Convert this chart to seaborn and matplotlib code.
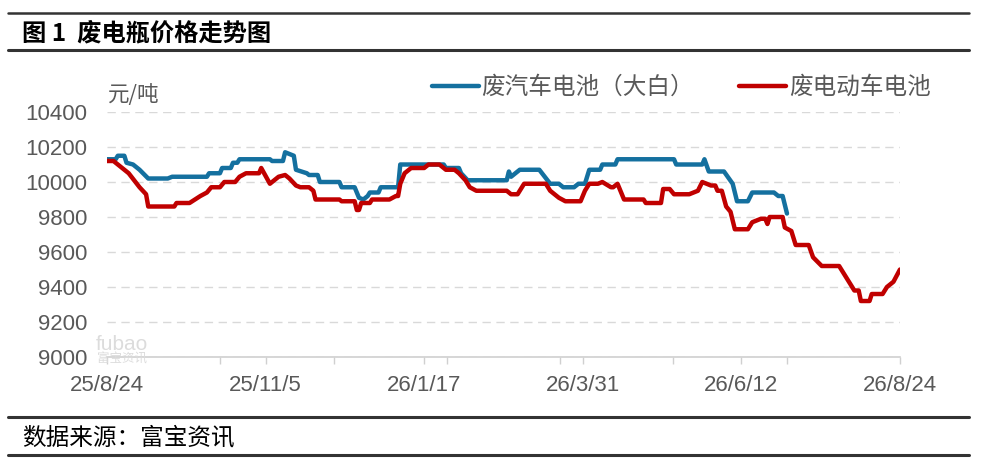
import pandas as pd
import matplotlib.pyplot as plt
from matplotlib.lines import Line2D
import seaborn as sns

# data: days since 2025-08-24 and price (元/吨)
start = pd.Timestamp("2025-08-24")

car_days = [0, 4, 5, 8, 9, 12, 15, 19, 28, 30, 46, 47, 52, 53, 57, 58, 60, 61, 75, 76,
            81, 82, 84, 86, 87, 92, 93, 97, 98, 107, 108, 114, 116, 118, 120, 121, 125, 126,
            134, 135, 155, 156, 162, 163, 166, 184, 185, 186, 190, 199, 204, 208, 210, 215,
            217, 220, 222, 227, 228, 234, 235, 261, 262, 274, 275, 277, 284, 288, 290, 295,
            297, 307, 309, 311, 313]
car_price = [10130, 10130, 10150, 10150, 10110, 10100, 10070, 10020, 10020, 10030, 10030,
             10050, 10050, 10080, 10080, 10110, 10110, 10130, 10130, 10120, 10120, 10170,
             10160, 10150, 10070, 10050, 10040, 10040, 10000, 10000, 9970, 9970, 9910, 9900,
             9920, 9940, 9940, 9970, 9970, 10100, 10100, 10080, 10080, 10050, 10010, 10010,
             10060, 10030, 10070, 10070, 9990, 9990, 9970, 9970, 9990, 9990, 10070, 10070,
             10100, 10100, 10130, 10130, 10100, 10100, 10130, 10060, 10060, 9990, 9890, 9890,
             9940, 9940, 9920, 9920, 9820]

ev_days = [0, 3, 6, 10, 15, 18, 19, 31, 32, 38, 43, 46, 48, 52, 54, 59, 61, 64, 70, 71,
           75, 79, 82, 84, 87, 89, 93, 95, 96, 107, 108, 114, 115, 116, 117, 121, 122, 130,
           133, 134, 135, 137, 140, 146, 148, 153, 156, 160, 162, 165, 167, 170, 184, 186,
           189, 192, 202, 204, 208, 211, 218, 220, 222, 226, 228, 232, 233, 235, 238, 247,
           248, 255, 256, 259, 261, 268, 272, 274, 278, 280, 281, 283, 285, 287, 289, 295,
           297, 301, 303, 304, 305, 311, 312, 315, 317, 323, 325, 329, 337, 340, 344, 346,
           347, 351, 352, 357, 359, 362, 365]
ev_price = [10120, 10120, 10090, 10050, 9970, 9930, 9860, 9860, 9880, 9880, 9920, 9940,
            9970, 9970, 10000, 10000, 10030, 10050, 10050, 10080, 9990, 10030, 10040, 10020,
            9980, 9970, 9970, 9950, 9900, 9900, 9890, 9890, 9840, 9840, 9880, 9880, 9900,
            9900, 9920, 9920, 9990, 10050, 10080, 10080, 10100, 10100, 10070, 10070, 10050,
            10010, 9970, 9950, 9950, 9930, 9930, 9990, 9990, 9950, 9910, 9890, 9890, 9950,
            9990, 9990, 10000, 9970, 9970, 9990, 9900, 9900, 9880, 9880, 9960, 9960, 9930,
            9930, 9950, 10000, 9980, 9980, 9950, 9950, 9860, 9830, 9730, 9730, 9770, 9790,
            9790, 9760, 9800, 9800, 9740, 9720, 9640, 9640, 9570, 9520, 9520, 9460, 9380,
            9380, 9320, 9320, 9360, 9360, 9400, 9430, 9500]

series_names = ["废汽车电池（大白）", "废电动车电池"]
series_colors = ["#14709f", "#c00000"]
tick_labels = ["25/8/24", "25/11/5", "26/1/17", "26/3/31", "26/6/12", "26/8/24"]
y_ticks = [9000, 9200, 9400, 9600, 9800, 10000, 10200, 10400]

car_dates = start + pd.to_timedelta(car_days, unit="D")
ev_dates = start + pd.to_timedelta(ev_days, unit="D")
end = start + pd.Timedelta(days=365)

sns.set_style("white")
plt.rcParams['font.family'] = ['Noto Sans CJK SC', 'DejaVu Sans']
num_font = ['Liberation Sans', 'DejaVu Sans']
grey = "#595959"

fig = plt.figure(figsize=(9.84, 4.70), dpi=100)
ax = fig.add_axes([0.1087, 0.2404, 0.8059, 0.5213])

sns.lineplot(x=car_dates, y=car_price, ax=ax, color=series_colors[0], linewidth=3.2,
             label=series_names[0], legend=False)
sns.lineplot(x=ev_dates, y=ev_price, ax=ax, color=series_colors[1], linewidth=3.2,
             label=series_names[1], legend=False)

ax.set_xlim(start, end)
ax.set_ylim(9000, 10400)
ax.set_yticks(y_ticks)
ax.set_yticklabels([str(v) for v in y_ticks], family=num_font, fontsize=16, color=grey)
major = pd.date_range(start, periods=6, freq="73D")
ax.set_xticks(major)
ax.set_xticklabels(tick_labels, family=num_font, fontsize=16, color=grey)
minor = [start + pd.Timedelta(days=365 * k / 7) for k in range(1, 7)]
ax.set_xticks(minor, minor=True)
ax.tick_params(axis="y", length=0, pad=14)
ax.tick_params(axis="x", which="both", length=5, width=1, color="#d0d0d0",
               direction="out", pad=8, bottom=True)
ax.set_xlabel("")
ax.set_ylabel("")

ax.grid(axis="y", color="#d9d9d9", linestyle=(0, (6, 4)), linewidth=1)
ax.grid(axis="x", visible=False)
for s in ["top", "right", "left"]:
    ax.spines[s].set_visible(False)
ax.spines["bottom"].set_color("#d0d0d0")
ax.spines["bottom"].set_linewidth(1.2)
ax.set_axisbelow(True)

# unit label and legend
fig.text(0.110, 0.798, "元/吨", fontsize=15.5, color=grey, va="center", ha="left")
handles = [Line2D([], [], color=c, linewidth=3.2) for c in series_colors]
fig.legend(handles, series_names, loc="center right", bbox_to_anchor=(0.946, 0.814),
           ncol=2, frameon=False, fontsize=17, labelcolor=grey, handlelength=2.0,
           handletextpad=0.12, columnspacing=1.9, borderpad=0, borderaxespad=0)

# watermark
fig.text(0.097, 0.268, "fubao", fontsize=15, color="#dcdcdc", family=num_font,
         va="center", ha="left")
fig.text(0.099, 0.235, "富宝资讯", fontsize=9, color="#dcdcdc", va="center", ha="left")

# title, source and rules
fig.text(0.022, 0.930, "图 1  废电瓶价格走势图", fontsize=17.5, fontweight="bold",
         color="black", va="center", ha="left")
fig.text(0.022, 0.069, "数据来源：富宝资讯", fontsize=17, color="black",
         va="center", ha="left")
for y, lw in [(0.972, 1.8), (0.893, 2.2), (0.113, 2.2), (0.032, 2.2)]:
    fig.add_artist(Line2D([0.008, 0.985], [y, y], transform=fig.transFigure,
                          color="#333333", linewidth=lw))

plt.savefig("out.png", dpi=100)
